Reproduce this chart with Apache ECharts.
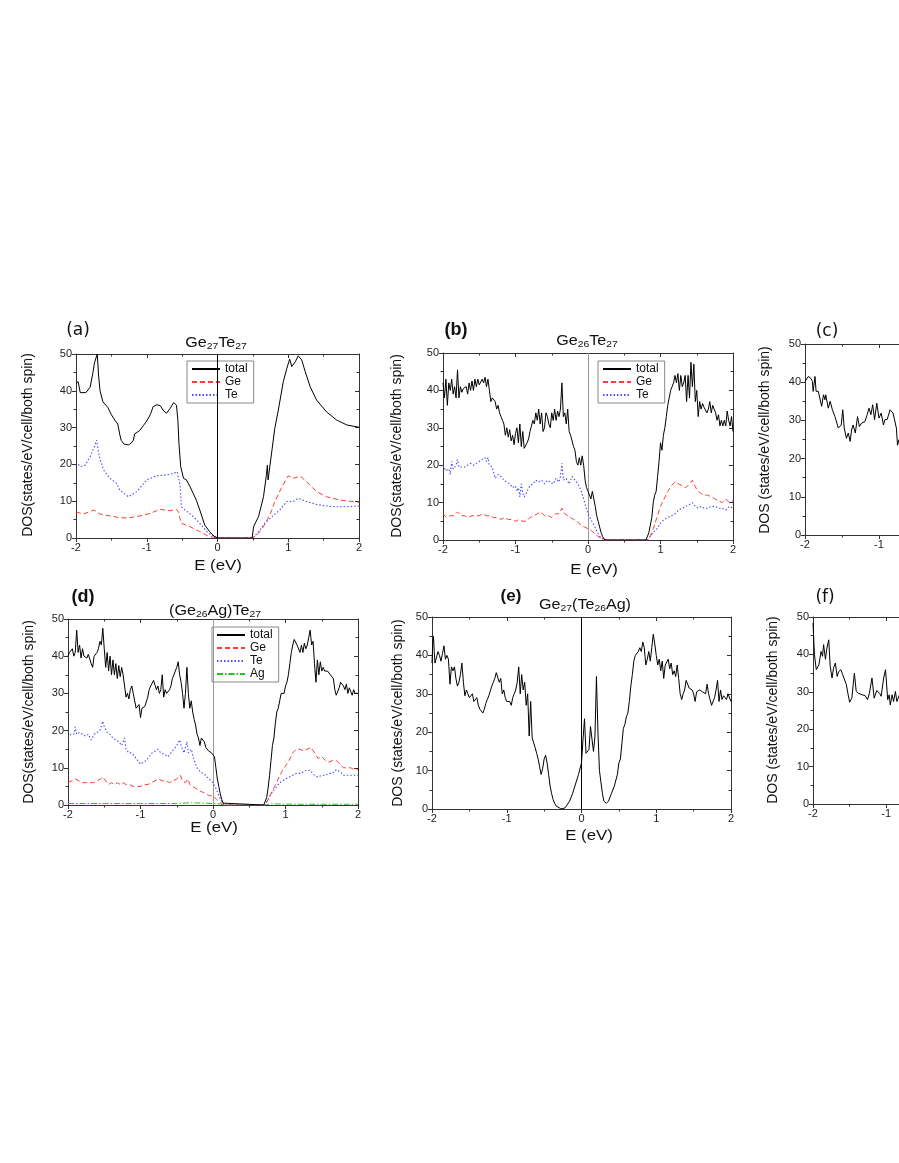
<!DOCTYPE html>
<html>
<head>
<meta charset="utf-8">
<title>DOS panels</title>
<script src="https://cdn.jsdelivr.net/npm/echarts@6/dist/echarts.min.js"></script>
<style>
	html, body { margin: 0; padding: 0; background: #fff; overflow: hidden; }
	/* wider than the window so panels (c) and (f) can run off the right edge */
	#chart { width: 1200px; height: 1163px; }
</style>
</head>
<body>
<div id="chart"></div>
<script>
// ---- data: [E (eV), DOS] ----
var aTotal = [[-2,42],[-1.97,42.5],[-1.94,39.5],[-1.92,39],[-1.86,39.5],[-1.8,41],[-1.76,45],[-1.74,47.5],[-1.72,48],[-1.7,50],[-1.68,44],[-1.66,40],[-1.62,37],[-1.55,35.5],[-1.5,33.5],[-1.45,32],[-1.41,31],[-1.38,28],[-1.36,26.5],[-1.32,25.5],[-1.26,25.3],[-1.22,25.8],[-1.19,26.5],[-1.17,28.3],[-1.1,29.2],[-1.05,30.5],[-1,31.8],[-0.95,33.5],[-0.91,35.7],[-0.86,36.2],[-0.81,36],[-0.76,34.5],[-0.72,33.9],[-0.67,35.2],[-0.62,36.8],[-0.58,36.1],[-0.56,32],[-0.545,25.7],[-0.52,19.4],[-0.48,16.2],[-0.44,15.8],[-0.39,14],[-0.34,12],[-0.3,10.3],[-0.25,7.6],[-0.18,3.5],[-0.11,1.7],[-0.05,0.5],[0,0],[0.49,0],[0.51,3.1],[0.58,5.8],[0.65,11.2],[0.69,17],[0.705,19.8],[0.715,15.8],[0.77,23.9],[0.81,29.8],[0.86,34.8],[0.93,42.5],[0.98,46.1],[1.02,48.6],[1.05,46.6],[1.1,47.9],[1.14,49.5],[1.19,48.4],[1.24,45.2],[1.31,41.1],[1.4,37.5],[1.54,34.3],[1.68,32.1],[1.83,30.7],[2,30.1]];
var aGe = [[-2,7.1],[-1.9,6.5],[-1.8,7.2],[-1.75,7.6],[-1.71,7.2],[-1.66,6.5],[-1.52,6],[-1.4,5.6],[-1.28,5.4],[-1.1,6],[-0.95,6.7],[-0.81,7.8],[-0.67,7.4],[-0.58,7.8],[-0.55,7],[-0.53,5.3],[-0.51,4],[-0.39,3.1],[-0.25,1.7],[-0.13,0.5],[0,0],[0.5,0],[0.58,1.3],[0.65,3.1],[0.75,6.7],[0.81,9.9],[0.9,13.5],[1,16.9],[1.07,16.2],[1.17,16.8],[1.26,15.3],[1.4,12.6],[1.54,11.2],[1.73,10.3],[2,9.7]];
var aTe = [[-2,20.7],[-1.94,19.4],[-1.87,19.8],[-1.8,22.1],[-1.74,24.8],[-1.71,26.6],[-1.67,22.1],[-1.61,18.5],[-1.52,16.2],[-1.43,14.9],[-1.38,13],[-1.26,11.2],[-1.14,12.6],[-1,15.8],[-0.86,16.9],[-0.72,17.1],[-0.62,17.6],[-0.57,18],[-0.53,14.4],[-0.51,8.5],[-0.46,7.6],[-0.37,6.3],[-0.25,4],[-0.13,1.3],[0,0],[0.5,0],[0.58,1.7],[0.67,4],[0.77,5.8],[0.88,7.6],[0.98,9.9],[1.07,9.9],[1.14,10.8],[1.26,9.9],[1.4,9.1],[1.54,8.7],[1.68,8.5],[1.83,8.5],[2,8.7]];

var bTotal = [[-2,42],[-1.98,38],[-1.96,43],[-1.94,36],[-1.92,42],[-1.9,40],[-1.88,43],[-1.86,39],[-1.84,41],[-1.82,38],[-1.8,45.5],[-1.78,38],[-1.76,41],[-1.74,39.5],[-1.72,40.5],[-1.7,40],[-1.68,41],[-1.66,39],[-1.64,42],[-1.62,40],[-1.6,42.5],[-1.58,40],[-1.56,43],[-1.54,41],[-1.52,43],[-1.5,41.5],[-1.48,42],[-1.46,43],[-1.44,42],[-1.42,43.5],[-1.4,41],[-1.38,43],[-1.36,40],[-1.34,37],[-1.32,38],[-1.3,37.5],[-1.28,37],[-1.26,35],[-1.24,36],[-1.22,34],[-1.2,33],[-1.18,32],[-1.16,31],[-1.14,28],[-1.12,30],[-1.1,27.5],[-1.08,29.5],[-1.06,26.5],[-1.04,28],[-1.02,25.5],[-1,28.5],[-0.98,30],[-0.96,26],[-0.94,31],[-0.92,25],[-0.9,29],[-0.88,24.5],[-0.86,25],[-0.84,26],[-0.82,27],[-0.8,29],[-0.78,30.5],[-0.76,32],[-0.74,31],[-0.72,34],[-0.7,32],[-0.68,35],[-0.66,31],[-0.64,34],[-0.62,29],[-0.6,30],[-0.58,34],[-0.56,33],[-0.54,31],[-0.52,30],[-0.5,34],[-0.48,32],[-0.46,35],[-0.44,32],[-0.42,34.5],[-0.4,33],[-0.38,35],[-0.36,42],[-0.34,33],[-0.32,34],[-0.3,31],[-0.28,35],[-0.26,29],[-0.24,28],[-0.22,28],[-0.2,25],[-0.18,24],[-0.16,21],[-0.14,20],[-0.12,22],[-0.1,20],[-0.08,22.5],[-0.06,20],[-0.04,16],[-0.02,14],[0,13],[0.02,12.5],[0.04,11],[0.06,13],[0.08,12.5],[0.1,9],[0.12,6.5],[0.14,5],[0.16,3.5],[0.18,2],[0.2,1],[0.22,0.3],[0.25,0],[0.8,0],[0.82,0.5],[0.84,2],[0.86,4],[0.88,6],[0.9,10],[0.92,12],[0.94,13],[0.96,17],[0.98,21],[1,26],[1.02,24],[1.04,28],[1.06,30],[1.08,33],[1.1,36],[1.12,38],[1.14,40],[1.16,41],[1.18,42],[1.2,44],[1.22,42],[1.24,44.5],[1.26,40],[1.28,44],[1.3,41],[1.32,42],[1.34,44],[1.36,37],[1.38,44],[1.4,38],[1.42,47.5],[1.44,41],[1.46,47],[1.48,37],[1.5,40],[1.52,33],[1.54,37],[1.56,35],[1.58,36.5],[1.6,35.5],[1.62,35],[1.64,34],[1.66,35],[1.68,37],[1.7,34],[1.72,36],[1.74,35],[1.76,34],[1.78,32],[1.8,33.5],[1.82,30.5],[1.84,32],[1.86,30.5],[1.88,32],[1.9,30.5],[1.92,34.5],[1.94,32],[1.96,30.5],[1.98,33],[2,29]];
var bGe = [[-2,7],[-1.95,6],[-1.9,6.5],[-1.85,6.5],[-1.8,7.5],[-1.75,6.5],[-1.7,6.5],[-1.65,6],[-1.6,6.5],[-1.55,6.5],[-1.5,6.5],[-1.45,7],[-1.4,6.5],[-1.35,6.5],[-1.3,6],[-1.25,6],[-1.2,5.5],[-1.15,6],[-1.1,5.5],[-1.05,5.5],[-1,5],[-0.95,5.5],[-0.9,5],[-0.85,5],[-0.8,6],[-0.75,6.5],[-0.7,7],[-0.65,7.5],[-0.6,6.5],[-0.55,6.5],[-0.5,6],[-0.45,7],[-0.4,7],[-0.36,8.5],[-0.32,7],[-0.28,6.5],[-0.24,6],[-0.2,5.5],[-0.15,5],[-0.1,4],[-0.05,3.5],[0,3],[0.05,2.5],[0.1,1.5],[0.15,0.8],[0.2,0.3],[0.25,0],[0.82,0],[0.86,1],[0.9,3],[0.95,6],[1,9],[1.05,11],[1.1,13],[1.15,14.5],[1.2,15.5],[1.25,15],[1.3,14.5],[1.35,14],[1.4,15],[1.44,16],[1.46,15],[1.5,13.5],[1.55,12.5],[1.6,12],[1.65,12],[1.7,11.5],[1.75,11],[1.8,10.5],[1.85,10],[1.9,11],[1.95,10],[2,10.5]];
var bTe = [[-2,20],[-1.96,18.5],[-1.92,19],[-1.9,17.5],[-1.88,21],[-1.86,19],[-1.82,20],[-1.8,21.5],[-1.78,19.5],[-1.74,19.5],[-1.7,19.5],[-1.66,20],[-1.62,20.5],[-1.58,20],[-1.54,20.5],[-1.5,21],[-1.46,21.5],[-1.42,22],[-1.4,21],[-1.38,22],[-1.36,20],[-1.32,19.5],[-1.3,18],[-1.28,16.5],[-1.24,17.5],[-1.2,17],[-1.16,16],[-1.12,15.5],[-1.08,15],[-1.04,14],[-1,14.5],[-0.98,13],[-0.96,14],[-0.94,11.5],[-0.92,15],[-0.9,12.5],[-0.88,11.5],[-0.84,13],[-0.8,14.5],[-0.76,15],[-0.72,16],[-0.68,15.5],[-0.64,16],[-0.6,15],[-0.56,16],[-0.52,15.5],[-0.48,15],[-0.44,16.5],[-0.4,15.5],[-0.38,17],[-0.36,20.5],[-0.34,16],[-0.3,16.5],[-0.26,15],[-0.22,17],[-0.18,16],[-0.14,15],[-0.1,13.5],[-0.06,11],[-0.04,9.5],[-0.02,9],[0,7],[0.04,5.5],[0.08,4],[0.12,2.5],[0.16,1],[0.2,0.3],[0.25,0],[0.82,0],[0.86,1],[0.9,2],[0.95,3],[1,4.5],[1.05,5.5],[1.1,6],[1.15,6.5],[1.2,7],[1.25,8],[1.3,8.5],[1.35,9],[1.4,9.5],[1.44,10],[1.48,9],[1.52,8.5],[1.56,9],[1.6,8.5],[1.65,8.5],[1.7,9],[1.75,9],[1.8,8.5],[1.85,8.5],[1.9,8],[1.95,9],[2,8.5]];

var cTotal = [[-2,40.2],[-1.955,41.5],[-1.92,41],[-1.9,40.2],[-1.89,37.6],[-1.865,41.5],[-1.85,37.6],[-1.82,37.6],[-1.8,37.2],[-1.775,33.7],[-1.75,36.7],[-1.73,35.4],[-1.72,36.7],[-1.685,33.2],[-1.66,35],[-1.63,32.8],[-1.595,31],[-1.57,31],[-1.55,28],[-1.51,28.8],[-1.49,32.8],[-1.47,28],[-1.44,25.3],[-1.415,26.7],[-1.39,24.5],[-1.37,27.5],[-1.35,28.8],[-1.32,26.7],[-1.29,31],[-1.265,28.4],[-1.235,29.3],[-1.19,29.7],[-1.16,31.5],[-1.135,33.2],[-1.11,31.5],[-1.085,34.1],[-1.06,30.2],[-1.03,34.5],[-1,30.6],[-0.97,31.9],[-0.94,28.8],[-0.92,30.2],[-0.89,30.2],[-0.85,32.8],[-0.83,33.2],[-0.81,31.9],[-0.785,31.5],[-0.765,28],[-0.75,23.5],[-0.73,25]];

var dTotal = [[-2,40],[-1.98,41],[-1.96,40.5],[-1.94,42],[-1.92,40],[-1.9,41],[-1.88,47],[-1.86,41],[-1.84,43],[-1.82,39.5],[-1.8,42],[-1.78,40],[-1.76,40.5],[-1.74,39.5],[-1.72,40.5],[-1.7,40],[-1.68,38],[-1.66,37],[-1.64,40],[-1.62,40.5],[-1.6,41],[-1.58,42],[-1.56,44],[-1.54,43],[-1.52,47.5],[-1.5,42],[-1.48,37],[-1.46,41],[-1.44,36],[-1.42,40],[-1.4,35],[-1.38,39],[-1.36,35],[-1.34,38],[-1.32,34],[-1.3,37.5],[-1.28,34.5],[-1.26,37],[-1.24,35],[-1.22,32],[-1.2,29],[-1.18,30],[-1.16,28.5],[-1.14,31],[-1.12,32],[-1.1,30],[-1.08,28],[-1.06,26],[-1.04,25.5],[-1.02,27],[-1,23.5],[-0.98,26],[-0.96,25.5],[-0.94,26.5],[-0.92,27],[-0.9,29],[-0.88,31],[-0.86,32],[-0.84,32.5],[-0.82,33.5],[-0.8,33],[-0.78,31],[-0.76,32],[-0.74,30],[-0.72,31],[-0.7,35],[-0.68,29],[-0.66,31],[-0.64,30],[-0.62,29.5],[-0.6,31],[-0.58,32],[-0.56,34],[-0.54,35],[-0.52,36],[-0.5,37],[-0.48,38.5],[-0.46,35],[-0.44,33],[-0.42,30],[-0.4,26],[-0.38,30],[-0.36,37],[-0.34,30],[-0.32,26],[-0.3,28],[-0.28,25],[-0.26,23],[-0.24,21.5],[-0.22,19],[-0.2,18],[-0.18,16],[-0.16,18],[-0.14,17.5],[-0.12,17],[-0.1,15.5],[-0.08,15],[-0.06,14.5],[-0.04,14],[-0.02,14],[0,13.5],[0.02,13],[0.04,10],[0.06,7],[0.08,5],[0.1,3],[0.12,1.5],[0.14,0.5],[0.16,0],[0.7,0],[0.72,0.5],[0.74,2],[0.76,4.5],[0.78,8],[0.8,12],[0.82,16],[0.84,18],[0.86,22],[0.88,25],[0.9,26],[0.92,28],[0.94,30],[0.96,30.5],[0.98,30],[1,32],[1.02,33],[1.04,35],[1.06,38],[1.08,41],[1.1,43],[1.12,44.5],[1.14,44],[1.16,43],[1.18,42.5],[1.2,41],[1.22,43],[1.24,41],[1.26,43.5],[1.28,42],[1.3,43],[1.32,45],[1.34,47],[1.36,43],[1.38,44],[1.4,38],[1.42,33],[1.44,39],[1.46,35],[1.48,38.5],[1.5,36],[1.52,37],[1.54,36],[1.56,35.5],[1.58,36],[1.6,35.5],[1.62,35],[1.64,35.5],[1.66,34],[1.68,31],[1.7,29.5],[1.72,30],[1.74,31.5],[1.76,33],[1.78,33],[1.8,32],[1.82,31],[1.84,32.5],[1.86,30],[1.88,31.5],[1.9,31],[1.92,29.5],[1.94,31],[1.96,30],[1.98,29.5],[2,30]];
var dGe = [[-2,6],[-1.95,6.5],[-1.9,7],[-1.85,6.5],[-1.8,6],[-1.75,6],[-1.7,6],[-1.65,6],[-1.6,6.5],[-1.55,7],[-1.52,7.5],[-1.48,6.5],[-1.44,5.5],[-1.4,6],[-1.36,5.5],[-1.32,6],[-1.28,5.5],[-1.24,6],[-1.2,5.5],[-1.15,5.5],[-1.1,5],[-1.05,5],[-1,5],[-0.95,5.5],[-0.9,5.5],[-0.85,6],[-0.8,6.5],[-0.75,7],[-0.7,6.5],[-0.65,6.5],[-0.6,6],[-0.55,6.5],[-0.5,7],[-0.45,8],[-0.42,6.5],[-0.38,6],[-0.35,7],[-0.32,5.5],[-0.28,5],[-0.24,4.5],[-0.2,4],[-0.15,3.5],[-0.1,3],[-0.05,2.5],[0,2.5],[0.05,1.5],[0.1,0.7],[0.15,0],[0.72,0],[0.76,1.5],[0.8,3],[0.85,5],[0.9,7],[0.95,9],[1,10.5],[1.05,12],[1.1,14],[1.15,15],[1.2,15],[1.25,14.5],[1.3,15],[1.35,15.5],[1.4,14],[1.45,12.5],[1.5,13],[1.55,12],[1.6,11.5],[1.65,12],[1.7,12],[1.75,11],[1.8,10],[1.85,10],[1.9,10],[1.95,9.5],[2,9.5]];
var dTe = [[-2,18],[-1.96,19],[-1.92,19],[-1.9,21],[-1.88,19],[-1.84,19.5],[-1.8,19],[-1.76,18.5],[-1.72,19],[-1.68,17.5],[-1.64,19],[-1.6,19.5],[-1.56,20],[-1.52,22.5],[-1.5,21],[-1.46,19.5],[-1.42,19],[-1.38,18],[-1.34,17.5],[-1.3,17],[-1.26,16],[-1.22,18],[-1.2,15],[-1.16,14],[-1.12,14],[-1.08,13],[-1.04,12],[-1,11],[-0.96,11.5],[-0.92,12],[-0.88,13],[-0.84,14],[-0.8,14.5],[-0.76,15],[-0.72,14],[-0.7,14.5],[-0.66,13.5],[-0.62,13],[-0.58,14],[-0.54,15],[-0.5,16],[-0.46,17.5],[-0.44,16],[-0.4,14],[-0.36,17],[-0.34,14],[-0.3,15],[-0.26,12],[-0.22,10],[-0.18,9],[-0.14,8.5],[-0.1,8],[-0.06,7],[-0.02,6.5],[0,6],[0.04,4.5],[0.08,2.5],[0.12,1],[0.16,0],[0.72,0],[0.76,1.5],[0.8,3],[0.84,4],[0.88,5],[0.92,6],[0.96,6.5],[1,7],[1.05,7.5],[1.1,8],[1.15,8.5],[1.2,8.5],[1.25,9],[1.3,9.5],[1.35,9],[1.4,8],[1.45,7.5],[1.5,8],[1.55,8],[1.6,8.5],[1.65,8.5],[1.7,9.5],[1.75,9],[1.8,8],[1.85,8],[1.9,8],[1.95,8],[2,8]];
var dAg = [[-2,0.4],[-1.5,0.4],[-1,0.4],[-0.5,0.4],[-0.3,0.6],[0,0.4],[0.1,0.3],[0.15,0],[0.72,0],[0.8,0.3],[1.2,0.2],[2,0.2]];

var eTotal = [[-2,38],[-1.99,43],[-1.98,45],[-1.97,41],[-1.96,38],[-1.94,38.5],[-1.92,41],[-1.9,40],[-1.88,38.5],[-1.86,40.5],[-1.84,42.5],[-1.82,39],[-1.8,40],[-1.78,39],[-1.76,32.5],[-1.74,37],[-1.72,36],[-1.7,37],[-1.68,34],[-1.66,32],[-1.64,33],[-1.62,35],[-1.6,38],[-1.58,33],[-1.56,29.5],[-1.54,31],[-1.52,30],[-1.5,29],[-1.48,28.5],[-1.46,30],[-1.44,28],[-1.42,28.5],[-1.4,29],[-1.38,27],[-1.36,26],[-1.34,25.5],[-1.32,25],[-1.3,26],[-1.28,27.5],[-1.26,28.5],[-1.24,29.5],[-1.22,30],[-1.2,32],[-1.18,33],[-1.16,34],[-1.14,35.5],[-1.12,35],[-1.1,33],[-1.08,34],[-1.06,30],[-1.04,31],[-1.02,29],[-1,28],[-0.98,27.5],[-0.96,28],[-0.94,27],[-0.92,29],[-0.9,30],[-0.88,31],[-0.86,33],[-0.84,37],[-0.82,30],[-0.8,35],[-0.78,31],[-0.76,33],[-0.74,27],[-0.72,30],[-0.7,19],[-0.68,28],[-0.66,18.5],[-0.64,18],[-0.62,16],[-0.6,14.5],[-0.58,13],[-0.56,11],[-0.54,9],[-0.52,10.5],[-0.5,13],[-0.48,14],[-0.46,12],[-0.44,9],[-0.42,6],[-0.4,4],[-0.38,2.5],[-0.36,1.5],[-0.34,0.8],[-0.32,0.4],[-0.28,0.1],[-0.25,0.1],[-0.22,0.3],[-0.2,0.8],[-0.16,2],[-0.12,4],[-0.08,6.5],[-0.04,9],[0,12],[0.02,18],[0.04,23.5],[0.06,14.5],[0.08,14],[0.1,15.5],[0.12,21.5],[0.14,21],[0.16,15],[0.18,19],[0.2,34.5],[0.22,20],[0.24,10],[0.26,7],[0.28,4],[0.3,2],[0.33,1.5],[0.36,2],[0.4,4],[0.44,6],[0.48,9],[0.5,12],[0.52,13],[0.54,17],[0.56,21],[0.58,22],[0.6,24],[0.62,25],[0.64,28],[0.66,32],[0.68,35],[0.7,38.5],[0.72,40],[0.74,39.5],[0.76,41],[0.78,42],[0.8,41],[0.82,43.5],[0.84,42],[0.86,37.5],[0.88,39],[0.9,41],[0.92,38.5],[0.94,42],[0.96,45.5],[0.98,43],[1,40],[1.02,37.5],[1.04,39],[1.06,36],[1.08,38.5],[1.1,34],[1.12,37.5],[1.14,37],[1.16,39],[1.18,36.5],[1.2,38],[1.22,35],[1.24,36],[1.26,34.5],[1.28,37.5],[1.3,34],[1.32,30],[1.34,28.5],[1.36,30],[1.38,31],[1.4,33.5],[1.42,32.5],[1.44,31.5],[1.46,32],[1.48,31],[1.5,30],[1.52,28],[1.54,30.5],[1.56,30],[1.58,31],[1.6,31.5],[1.62,30.5],[1.64,31],[1.66,30],[1.68,32.5],[1.7,30],[1.72,28.5],[1.74,27],[1.76,26.5],[1.78,29],[1.8,31],[1.82,33.5],[1.84,28],[1.86,31],[1.88,28.5],[1.9,29.5],[1.92,30],[1.94,28.5],[1.96,30],[1.98,29.5],[2,28]];

var fTotal = [[-2,48.4],[-1.98,39.9],[-1.955,35.9],[-1.92,37.2],[-1.89,40.8],[-1.87,39.5],[-1.855,42.6],[-1.83,38.7],[-1.81,41.7],[-1.785,43.9],[-1.765,36.8],[-1.74,33.7],[-1.72,36.3],[-1.695,37.7],[-1.67,34.1],[-1.65,35.4],[-1.62,35.9],[-1.595,34.6],[-1.57,35],[-1.545,31.9],[-1.52,29.2],[-1.5,27.2],[-1.47,28.3],[-1.435,35],[-1.41,30.1],[-1.38,29.6],[-1.33,29.2],[-1.29,29],[-1.255,27.9],[-1.23,29.6],[-1.195,33.7],[-1.165,28.3],[-1.13,30.3],[-1.09,29.6],[-1.07,28.8],[-1.035,33.7],[-1.01,35.9],[-0.98,27.9],[-0.96,29.2],[-0.945,26.5],[-0.92,29.2],[-0.9,27.4],[-0.875,30.1],[-0.855,27.4],[-0.82,29.2]];

var xTicks = { min: -2, max: 2, interval: 1 };
var yTicks = { min: 0, max: 50, interval: 10 };

var C_TOTAL = '#000', C_GE = '#ff3b3b', C_TE = '#4a4aff', C_AG = '#22c422';

var panels = [
	{ left: 76, top: 354, width: 283, height: 184, zero: '#000', lines: [['total', aTotal], ['Ge', aGe], ['Te', aTe]] },
	{ left: 443, top: 353, width: 290, height: 187, zero: '#999', lines: [['total', bTotal], ['Ge', bGe], ['Te', bTe]] },
	{ left: 805, top: 344, width: 296, height: 191, zero: null, lines: [['total', cTotal]] },
	{ left: 68, top: 619, width: 290, height: 186, zero: '#999', lines: [['total', dTotal], ['Ge', dGe], ['Te', dTe], ['Ag', dAg]] },
	{ left: 432, top: 617, width: 299, height: 192, zero: '#000', lines: [['total', eTotal]] },
	{ left: 813, top: 617, width: 293, height: 187, zero: null, lines: [['total', fTotal]] }
];

var styles = {
	total: { color: C_TOTAL, width: 1, type: 'solid' },
	Ge: { color: C_GE, width: 1, type: [5, 3] },
	Te: { color: C_TE, width: 1.1, type: [1.5, 2] },
	Ag: { color: C_AG, width: 1, type: [6, 2, 1.5, 2] }
};

var FONT = '"Liberation Sans", Arial, Helvetica, sans-serif';
var AXIS_C = '#333';

var grids = [], xAxes = [], yAxes = [], series = [];

panels.forEach(function (p, i) {
	grids.push({ left: p.left, top: p.top, width: p.width, height: p.height });
	var base = {
		gridIndex: i, type: 'value',
		axisLine: { show: true, onZero: false, lineStyle: { color: AXIS_C, width: 1 } },
		splitLine: { show: false }
	};
	var tick = { show: true, length: 4, lineStyle: { color: AXIS_C } };
	var tickIn = { show: true, inside: true, length: 4, lineStyle: { color: AXIS_C } };
	var minor = { show: true, splitNumber: 2, length: 2.5, lineStyle: { color: AXIS_C } };
	var lbl = { fontSize: 11, color: '#222', fontFamily: FONT, margin: 4 };
	// bottom + top x axes, left + right y axes (closed frame)
	xAxes.push(Object.assign({}, base, xTicks, { position: 'bottom', axisTick: tick, minorTick: minor, axisLabel: lbl }));
	xAxes.push(Object.assign({}, base, xTicks, { position: 'top', axisTick: tickIn, minorTick: minor, axisLabel: { show: false } }));
	yAxes.push(Object.assign({}, base, yTicks, { position: 'left', axisTick: tick, minorTick: minor, axisLabel: lbl }));
	yAxes.push(Object.assign({}, base, yTicks, { position: 'right', axisTick: tickIn, minorTick: minor, axisLabel: { show: false } }));

	p.lines.forEach(function (ln, k) {
		var st = styles[ln[0]];
		var s = {
			name: ln[0], type: 'line',
			xAxisIndex: 2 * i, yAxisIndex: 2 * i,
			data: ln[1],
			symbol: 'none', showSymbol: false,
			lineStyle: st, itemStyle: { color: st.color },
			clip: true, animation: false,
			z: 10 - k
		};
		if (k === 0 && p.zero) {
			s.markLine = {
				silent: true, symbol: 'none', animation: false,
				label: { show: false },
				lineStyle: { color: p.zero, width: 1, type: 'solid' },
				data: [{ xAxis: 0 }]
			};
		}
		series.push(s);
	});
});

function legendAt(left, top, names) {
	return {
		orient: 'vertical', left: left, top: top, data: names,
		backgroundColor: '#fff', borderColor: '#888', borderWidth: 1,
		padding: [2, 6, 2, 4], itemGap: 1, itemWidth: 28, itemHeight: 11,
		selectedMode: false,
		itemStyle: { opacity: 0 },
		textStyle: { fontSize: 12, fontFamily: FONT, color: '#111' }
	};
}

var rich = {
	n: { fontSize: 14, fontFamily: FONT, fill: '#111' },
	s: { fontSize: 9, fontFamily: FONT, fill: '#111', padding: [8, 0, 0, 0] }
};

function label(text, x, y, font, rot, sx) {
	return {
		type: 'text', x: x, y: y, rotation: rot || 0, scaleX: sx || 1, silent: true,
		style: { text: text, font: font, fill: '#111', align: 'center', verticalAlign: 'middle' }
	};
}
function formula(text, x, y) {
	return {
		type: 'text', x: x, y: y, scaleX: 1.15, silent: true,
		style: { text: text, align: 'center', verticalAlign: 'middle', rich: rich, fill: '#111' }
	};
}

var F_PANEL = '17px "DejaVu Sans", sans-serif';
var F_PANEL_B = 'bold 18px "Liberation Sans", Arial, sans-serif';
var F_AXIS = '14px "Liberation Sans", Arial, sans-serif';
var F_Y = '14px "Liberation Sans", Arial, sans-serif';
var R = Math.PI / 2;

var option = {
	backgroundColor: '#fff',
	animation: false,
	grid: grids, xAxis: xAxes, yAxis: yAxes, series: series,
	legend: [
		legendAt(187, 361, ['total', 'Ge', 'Te']),
		legendAt(598, 361, ['total', 'Ge', 'Te']),
		legendAt(212, 627, ['total', 'Ge', 'Te', 'Ag'])
	],
	graphic: [
		formula('{n|Ge}{s|27}{n|Te}{s|27}', 216, 343),
		formula('{n|Ge}{s|26}{n|Te}{s|27}', 587, 341),
		formula('{n|(Ge}{s|26}{n|Ag)Te}{s|27}', 215, 611),
		formula('{n|Ge}{s|27}{n|(Te}{s|26}{n|Ag)}', 585, 605),
		label('(a)', 78, 331, F_PANEL),
		label('(b)', 456, 330, F_PANEL_B),
		label('(c)', 827, 332, F_PANEL),
		label('(d)', 83, 597, F_PANEL_B),
		label('(e)', 511, 596, 'bold 17px "Liberation Sans", Arial, sans-serif'),
		label('(f)', 825, 598, F_PANEL),
		label('E (eV)', 218, 566, F_AXIS, 0, 1.2),
		label('E (eV)', 594, 570, F_AXIS, 0, 1.2),
		label('E (eV)', 214, 828, F_AXIS, 0, 1.2),
		label('E (eV)', 589, 836, F_AXIS, 0, 1.2),
		label('DOS(states/eV/cell/both spin)', 28, 445, F_Y, R),
		label('DOS(states/eV/cell/both spin)', 397, 446, F_Y, R),
		label('DOS (states/eV/cell/both spin)', 765, 440, F_Y, R),
		label('DOS(states/eV/cell/both spin)', 29, 712, F_Y, R),
		label('DOS (states/eV/cell/both spin)', 398, 713, F_Y, R),
		label('DOS (states/eV/cell/both spin)', 773, 710, F_Y, R)
	]
};

var myChart = echarts.init(document.getElementById('chart'));
myChart.setOption(option);
</script>
</body>
</html>
